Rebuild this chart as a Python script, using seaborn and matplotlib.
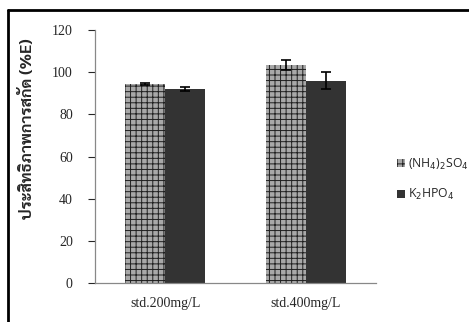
import matplotlib
matplotlib.use("Agg")
import matplotlib.pyplot as plt
import seaborn as sns
import pandas as pd

# data
standards = ["std.200mg/L", "std.400mg/L"]
salts = ["(NH$_4$)$_2$SO$_4$", "K$_2$HPO$_4$"]
nh4_eff = [94.5, 103.5]
k2_eff = [92.0, 96.0]
nh4_err = [0.4, 2.3]
k2_err = [1.0, 4.0]

ylabel = "ประสิทธิภาพการสกัด (%E)"

sns.set_style("white")
plt.rcParams["hatch.linewidth"] = 0.7

df = pd.DataFrame({
    "std": standards * 2,
    "salt": [salts[0]] * 2 + [salts[1]] * 2,
    "eff": nh4_eff + k2_eff,
    "err": nh4_err + k2_err,
})

hatch_face, hatch_line = "#a8a8a8", "#202020"

fig = plt.figure(figsize=(4.69, 3.22), dpi=100)
ax = fig.add_axes([0.2026, 0.1211, 0.599, 0.7857])
sns.barplot(data=df, x="std", y="eff", hue="salt", ax=ax, width=0.57,
            palette=[hatch_face, "#333333"], errorbar=None, saturation=1,
            linewidth=0)

n = len(standards)
for i, p in enumerate(ax.patches[:2 * n]):
    if i < n:
        p.set_hatch("+++")
        p.set_edgecolor(hatch_line)
    ax.errorbar(p.get_x() + p.get_width() / 2, p.get_height(),
                yerr=df["err"].iloc[i], color="black", capsize=3.5,
                elinewidth=1.2, capthick=1.2)

ax.set_ylim(0, 120)
ax.set_xlim(-0.5, 1.5)
ax.set_yticks(range(0, 121, 20))
ax.set_xlabel("")
ax.set_ylabel(ylabel, fontsize=11.5, fontweight="bold",
              family=["Sarabun", "Liberation Serif"])
ax.yaxis.set_label_coords(-0.213, 0.61)
for lab in ax.get_xticklabels() + ax.get_yticklabels():
    lab.set_family("Liberation Serif")
    lab.set_fontsize(10)
ax.tick_params(axis="y", length=5, width=0.8, direction="out", left=True,
               pad=11)
ax.tick_params(axis="x", length=0, pad=10)
for s in ["top", "right"]:
    ax.spines[s].set_visible(False)
for s in ["left", "bottom"]:
    ax.spines[s].set_color("#888888")
    ax.spines[s].set_linewidth(0.9)

leg = ax.legend(loc="center left", bbox_to_anchor=(1.035, 0.41), frameon=False,
                fontsize=8.8, handlelength=0.65, handleheight=0.65,
                handletextpad=0.3, labelspacing=1.25)
for t in leg.get_texts():
    t.set_family("Open Sans")
h0 = leg.legend_handles[0]
h0.set_hatch("+++")
h0.set_edgecolor(hatch_line)
h0.set_facecolor(hatch_face)

# outer frame
fig.add_artist(plt.Line2D([8 / 469, 1], [1 - 10 / 322] * 2, color="black", lw=2))
fig.add_artist(plt.Line2D([8 / 469] * 2, [0, 1 - 10 / 322], color="black", lw=2))

fig.savefig("out.png", dpi=100)
